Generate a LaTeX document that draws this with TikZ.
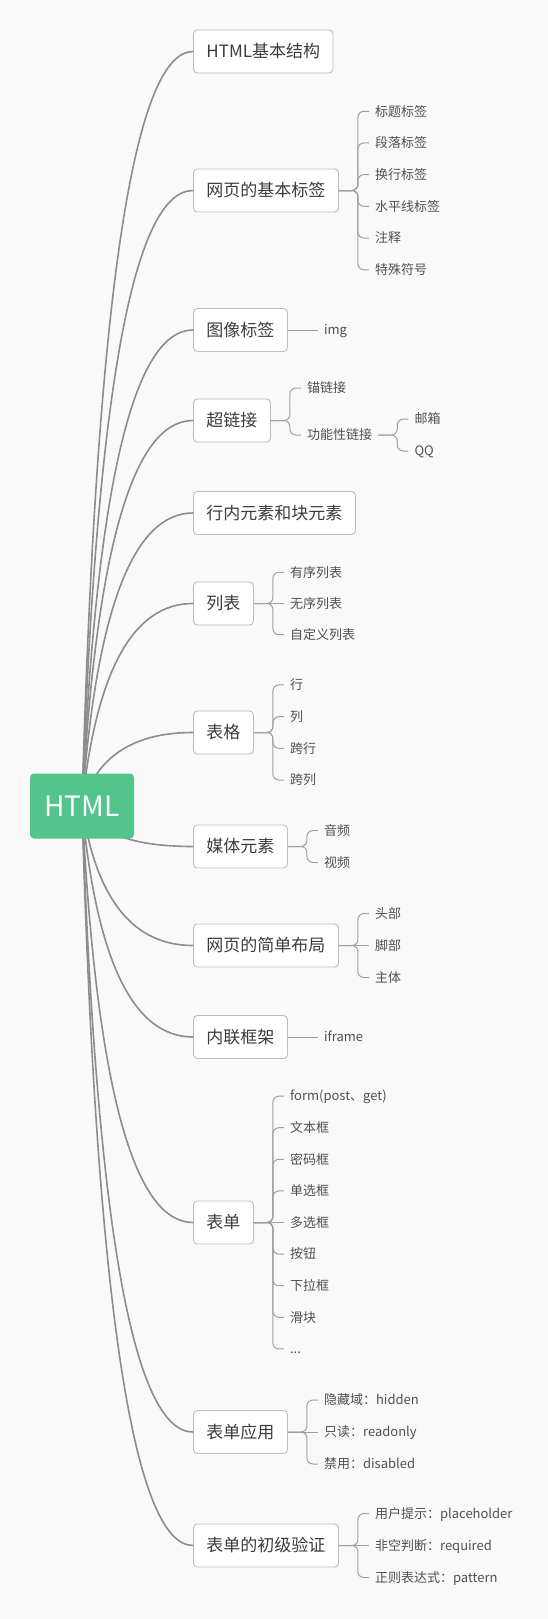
\documentclass[tikz,border=0pt]{standalone}
\usepackage{fontspec}
\setmainfont{Noto Sans CJK SC}
\usetikzlibrary{calc}
\definecolor{paper}{HTML}{F9F9F9}
\definecolor{mint}{HTML}{52C48C}
\definecolor{rim}{HTML}{BDBDBD}
\definecolor{ink}{HTML}{3C3C3C}
\definecolor{inkl}{HTML}{505050}
\definecolor{stemc}{HTML}{8C8C8C}
\definecolor{twigc}{HTML}{A0A0A0}
\pgfdeclarelayer{links}
\pgfsetlayers{links,main}

\begin{document}
\begin{tikzpicture}[x=1pt,y=-1pt,
  root/.style={fill=mint,rounded corners=4pt,minimum width=104pt,minimum height=65pt,text=white,font=\fontsize{28}{32}\selectfont,text height=20pt,text depth=0pt},
  topic/.style={draw=rim,fill=white,line width=.9pt,rounded corners=4pt,anchor=west,inner xsep=13pt,minimum height=43pt,text=ink,font=\fontsize{17}{20}\selectfont,text height=13.2pt,text depth=.8pt},
  leaf/.style={anchor=west,inner xsep=6pt,inner ysep=2pt,text=inkl,font=\fontsize{13}{16}\selectfont,text height=10.1pt,text depth=.6pt},
  stem/.style={draw=stemc,line width=1.6pt},
  twig/.style={draw=twigc,line width=1pt,rounded corners=6pt}]
\useasboundingbox (0,0) rectangle (548,1619);
% centre and first level
\node[root] (html) at (82,806) {HTML};
\node[topic] (jg) at (193,51.5) {HTML基本结构};
\node[topic] (jb) at (193,190.5) {网页的基本标签};
\node[topic] (tx) at (193,330) {图像标签};
\node[topic] (cl) at (193,420.5) {超链接};
\node[topic] (hn) at (193,513) {行内元素和块元素};
\node[topic] (lb) at (193,603.5) {列表};
\node[topic] (bg) at (193,732.5) {表格};
\node[topic] (mt) at (193,846.5) {媒体元素};
\node[topic] (bj) at (193,945.5) {网页的简单布局};
\node[topic] (kj) at (193,1037) {内联框架};
\node[topic] (bd) at (193,1222.5) {表单};
\node[topic] (yy) at (193,1432) {表单应用};
\node[topic] (yz) at (193,1545.5) {表单的初级验证};
% brackets
\foreach \b in {jb,cl,lb,bg,mt,bj,bd,yy,yz}
  \coordinate (\b k) at ($(\b.east)+(19,0)$);
% leaves
\foreach \t [count=\i] in {标题标签,段落标签,换行标签,水平线标签,注释,特殊符号}
  \node[leaf] (jb\i) at ($(jbk)+(11,{(\i-3.5)*31.7})$) {\t};
\node[leaf] (img) at ($(tx.east)+(30,0)$) {img};
\node[leaf] (cl1) at ($(clk)+(11,-32.5)$) {锚链接};
\node[leaf] (cl2) at ($(clk)+(11,14.5)$) {功能性链接};
\coordinate (cl2k) at ($(cl2.east)+(19,0)$);
\node[leaf] (cl21) at ($(cl2k)+(11,-16)$) {邮箱};
\node[leaf] (cl22) at ($(cl2k)+(11,16)$) {QQ};
\foreach \t [count=\i] in {有序列表,无序列表,自定义列表}
  \node[leaf] (lb\i) at ($(lbk)+(11,{(\i-2)*31.2})$) {\t};
\foreach \t [count=\i] in {行,列,跨行,跨列}
  \node[leaf] (bg\i) at ($(bgk)+(11,{(\i-2.5)*31.7})$) {\t};
\foreach \t [count=\i] in {音频,视频}
  \node[leaf] (mt\i) at ($(mtk)+(11,{(\i-1.5)*32})$) {\t};
\foreach \t [count=\i] in {头部,脚部,主体}
  \node[leaf] (bj\i) at ($(bjk)+(11,{(\i-2)*32})$) {\t};
\node[leaf] (ifr) at ($(kj.east)+(30,0)$) {iframe};
\foreach \t [count=\i] in {form(post、get),文本框,密码框,单选框,多选框,按钮,下拉框,滑块}
  \node[leaf] (bd\i) at ($(bdk)+(11,{(\i-5)*31.6})$) {\t};
\node[leaf] (bd9) at ($(bdk)+(11,{4*31.6})$) {...};
\foreach \t [count=\i] in {隐藏域：hidden,只读：readonly,禁用：disabled}
  \node[leaf] (yy\i) at ($(yyk)+(11,{(\i-2)*32})$) {\t};
\foreach \t [count=\i] in {用户提示：placeholder,非空判断：required,正则表达式：pattern}
  \node[leaf] (yz\i) at ($(yzk)+(11,{(\i-2)*32})$) {\t};
% twigs
\foreach \i in {1,2,3,4,5,6} \draw[twig] (jb.east) -- (jbk) |- (jb\i.west);
\draw[twig] (tx.east) -- (img.west);
\draw[twig] (cl.east) -- (clk) |- (cl1.west); \draw[twig] (cl.east) -- (clk) |- (cl2.west);
\draw[twig] (cl2.east) -- (cl2k) |- (cl21.west); \draw[twig] (cl2.east) -- (cl2k) |- (cl22.west);
\foreach \i in {1,3} \draw[twig] (lb.east) -- (lbk) |- (lb\i.west);
\draw[twig] (lb.east) -- (lb2.west);
\foreach \i in {1,2,3,4} \draw[twig] (bg.east) -- (bgk) |- (bg\i.west);
\foreach \i in {1,2} \draw[twig] (mt.east) -- (mtk) |- (mt\i.west);
\foreach \i in {1,3} \draw[twig] (bj.east) -- (bjk) |- (bj\i.west);
\draw[twig] (bj.east) -- (bj2.west);
\draw[twig] (kj.east) -- (ifr.west);
\foreach \i in {1,2,3,4,6,7,8,9} \draw[twig] (bd.east) -- (bdk) |- (bd\i.west);
\draw[twig] (bd.east) -- (bd5.west);
\foreach \i in {1,3} \draw[twig] (yy.east) -- (yyk) |- (yy\i.west);
\draw[twig] (yy.east) -- (yy2.west);
\foreach \i in {1,3} \draw[twig] (yz.east) -- (yzk) |- (yz\i.west);
\draw[twig] (yz.east) -- (yz2.west);
% stems behind the centre
\begin{pgfonlayer}{links}
\fill[paper] (0,0) rectangle (548,1619);
\coordinate (ctl) at (103,0);
\foreach \b in {jg,jb,tx,cl,hn,lb,bg,mt,bj,kj,bd,yy,yz}
  \draw[stem] (html.center) .. controls ($(html.center)!.667!(\b.west -| ctl)$) and ($(\b.west)!.667!(\b.west -| ctl)$) .. (\b.west);
\end{pgfonlayer}
\end{tikzpicture}
\end{document}
